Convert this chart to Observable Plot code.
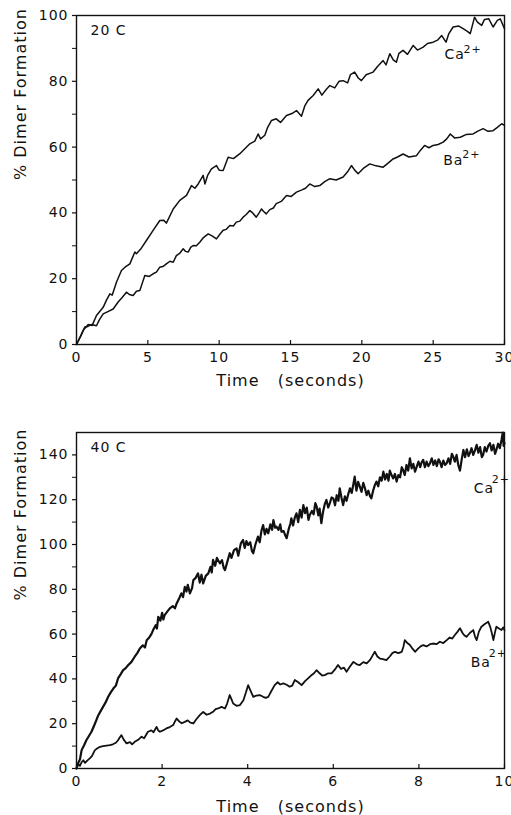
<!DOCTYPE html>
<html><head><meta charset="utf-8">
<script src="https://cdn.jsdelivr.net/npm/d3@7"></script>
<script src="https://cdn.jsdelivr.net/npm/@observablehq/plot@0.6"></script>
<style>body{margin:0;background:#fff;overflow:hidden} #chart{width:511px}</style>
</head><body><div id="chart"></div>
<script>
// ---- Top panel (20 C), time in seconds 0-30, % dimer formation ----
const caTop = [[0,0],[0.47,4.3],[0.82,6.1],[1.1,5.8],[1.4,8.8],[1.87,11.3],[2.1,13.5],[2.34,15.4],[2.5,15.0],[2.8,18.9],[3.15,22.5],[3.4,23.5],[3.74,24.5],[4.09,28.1],[4.2,27.6],[4.5,29],[4.9,31.6],[5.37,34.7],[5.84,37.7],[6.1,37.8],[6.3,36.9],[6.78,41.2],[7.24,43.8],[7.71,45.3],[8.06,48.3],[8.3,47.5],[8.53,48.8],[8.88,51.4],[9.0,48.8],[9.2,51.5],[9.46,53.4],[9.81,54.4],[10.0,53.0],[10.28,52.9],[10.63,56.9],[11.0,56.5],[11.45,58],[11.8,59.5],[12.15,61],[12.5,61.8],[12.73,64],[12.9,62.5],[13.2,63.6],[13.4,66],[13.67,68.1],[14.0,68.6],[14.3,67.5],[14.72,69.6],[15.1,70.2],[15.42,71.1],[15.77,69.4],[16.0,72.5],[16.23,74.2],[16.59,75.7],[16.94,77.7],[17.2,75.8],[17.5,77.5],[17.76,78.7],[18.1,78],[18.4,80],[18.69,80.2],[19.0,79.5],[19.2,82],[19.5,82.8],[19.75,81],[19.97,80.2],[20.3,82],[20.79,82.8],[21.1,84.5],[21.49,86.3],[21.7,85],[21.96,88.4],[22.2,86.5],[22.42,85.8],[22.6,88.5],[22.89,89.4],[23.2,88.2],[23.6,90.9],[23.9,89.5],[24.3,90.4],[24.6,91.5],[25.0,91.9],[25.3,92.5],[25.6,93.9],[25.9,91.9],[26.1,94.5],[26.4,96.5],[26.8,96.8],[27.1,96],[27.4,95.2],[27.6,94.5],[27.9,99.5],[28.1,98],[28.4,97],[28.6,98.8],[28.9,99],[29.2,96.5],[29.5,98.5],[29.7,99],[30,96]];
const baTop = [[0,0],[0.3,2.5],[0.58,5.3],[0.8,5.5],[1.05,6.1],[1.4,5.7],[1.6,7.5],[1.87,9.3],[2.2,10],[2.57,10.8],[2.92,12.9],[3.2,14.3],[3.5,15.9],[3.7,15.2],[3.97,14.9],[4.2,16.2],[4.44,16.4],[4.6,18.5],[4.79,21],[5.1,20.7],[5.37,21.5],[5.6,22],[5.84,23.5],[6.1,23.8],[6.3,24.5],[6.55,25.3],[6.78,25],[7.0,27],[7.25,27.8],[7.48,29.1],[7.65,28.3],[7.83,28.1],[8.0,29.5],[8.18,30.1],[8.4,30],[8.64,31.1],[8.9,32.5],[9.23,33.6],[9.5,33],[9.81,32.1],[10.05,33.5],[10.28,34.7],[10.5,35],[10.75,36.2],[11.0,36],[11.2,37.2],[11.45,37.5],[11.68,38.7],[11.9,39.5],[12.15,40.7],[12.35,40],[12.6,38.7],[12.8,40],[12.97,41.2],[13.1,40.5],[13.3,39.7],[13.55,41],[13.8,41.5],[14.0,42.8],[14.35,43.5],[14.72,45.3],[15.05,45],[15.42,46.3],[15.8,47],[16.05,47.5],[16.35,48.8],[16.7,48],[17.05,48.3],[17.4,49.5],[17.76,50.4],[18.2,50],[18.69,50.9],[19.0,52.5],[19.27,54.4],[19.5,53],[19.74,51.9],[20.1,53.5],[20.56,54.9],[21.0,54.3],[21.49,53.9],[21.8,55],[22.19,56.4],[22.5,57],[22.89,57.9],[23.3,57],[23.83,57.4],[24.1,59],[24.4,60.5],[24.7,59.8],[25.0,60.5],[25.35,60.8],[25.7,61.5],[25.95,62.5],[26.2,64],[26.5,62.8],[26.9,63],[27.3,63.8],[27.8,64],[28.1,64.8],[28.5,65.6],[28.85,64.8],[29.2,65],[29.5,66],[29.8,67.1],[30,66.6]];
const xTicksTop = [0, 5, 10, 15, 20, 25, 30];
const yTicksTop = [0, 20, 40, 60, 80, 100];
const yMinorTop = [10, 30, 50, 70, 90];
const labelsTop = [{t: 25.8, v: 88, ion: "Ca"}, {t: 25.7, v: 56, ion: "Ba"}];

// ---- Bottom panel (40 C), time in seconds 0-10 ----
const caBot = [[0,0],[0.04,2.5],[0.08,4],[0.12,8.2],[0.18,10.5],[0.23,12.6],[0.29,14.5],[0.35,16.4],[0.43,20],[0.51,23.8],[0.56,25.5],[0.62,27.5],[0.68,29.5],[0.74,32],[0.8,34],[0.86,35.7],[0.92,37],[0.97,40.2],[1.03,42],[1.09,43.9],[1.15,44.8],[1.21,46.2],[1.28,47.5],[1.36,49.9],[1.42,51.5],[1.48,53.6],[1.55,55],[1.6,54],[1.64,57.3],[1.7,58.5],[1.75,60],[1.79,61.8],[1.85,64],[1.88,62.5],[1.91,67.7],[1.96,66],[2.0,69.5],[2.03,66.5],[2.06,68.5],[2.12,70],[2.18,71.5],[2.25,72.5],[2.3,71.5],[2.34,73.7],[2.4,76],[2.45,78.2],[2.49,76.5],[2.53,81.1],[2.57,79],[2.6,82],[2.65,78.2],[2.7,80.5],[2.73,84.1],[2.78,85],[2.84,87.1],[2.88,83],[2.92,86.5],[2.96,82.6],[3.02,86],[3.08,87.1],[3.13,90],[3.16,87.5],[3.19,93.1],[3.24,90.5],[3.28,94],[3.35,91.6],[3.4,93],[3.44,89.5],[3.47,88.6],[3.52,92],[3.58,96.1],[3.62,94],[3.68,97.5],[3.74,98.3],[3.78,95],[3.84,100.5],[3.89,102],[3.93,98.5],[3.97,101.5],[4.01,99.8],[4.06,101],[4.1,97],[4.13,96.1],[4.18,100],[4.24,103.5],[4.28,101],[4.32,106],[4.36,108.7],[4.4,104.5],[4.44,107],[4.48,105],[4.53,109],[4.57,106.5],[4.6,110.9],[4.64,107.5],[4.67,108],[4.72,106.5],[4.76,109],[4.79,105.7],[4.84,106],[4.88,104],[4.91,102.8],[4.96,107],[5.0,109.5],[5.02,111.7],[5.06,108.5],[5.1,112],[5.14,113.9],[5.18,110],[5.22,115.5],[5.26,112],[5.3,117.6],[5.34,114],[5.38,116.5],[5.42,111],[5.45,113.2],[5.5,115],[5.54,113.5],[5.58,118.5],[5.61,117],[5.65,113],[5.68,116],[5.72,109.5],[5.76,114.5],[5.8,118],[5.84,119.9],[5.88,116.5],[5.92,118.5],[5.96,121],[6.0,120.6],[6.04,117.5],[6.08,122],[6.12,119.5],[6.15,125.1],[6.19,121],[6.23,117.6],[6.27,121.5],[6.31,119.5],[6.35,122.5],[6.39,125.1],[6.43,123],[6.47,127],[6.5,130.3],[6.54,124],[6.58,128],[6.62,125.8],[6.66,123.5],[6.7,127.5],[6.74,125.1],[6.78,122],[6.82,124],[6.86,121.5],[6.89,120.6],[6.93,124],[6.97,126.5],[7.01,128.1],[7.05,126],[7.09,130],[7.13,128.5],[7.17,132.5],[7.21,129],[7.25,131.5],[7.29,128.5],[7.32,133],[7.36,131],[7.4,129.5],[7.44,131.5],[7.48,128.1],[7.52,131],[7.56,130],[7.6,134.5],[7.63,133.3],[7.67,131],[7.71,135.5],[7.75,133],[7.79,138.5],[7.83,134],[7.87,136],[7.91,132.5],[7.95,134.8],[7.99,137],[8.03,134.5],[8.06,136.5],[8.1,137.8],[8.14,134.5],[8.18,137],[8.22,135],[8.26,136.3],[8.3,138.5],[8.34,135.5],[8.38,137.5],[8.42,135],[8.46,138],[8.49,137],[8.53,134.5],[8.57,137.5],[8.61,135.5],[8.65,136.3],[8.69,138.5],[8.73,136],[8.77,140.5],[8.8,139.3],[8.84,137],[8.88,140],[8.92,135.5],[8.96,133],[9.0,138],[9.04,142.2],[9.08,139],[9.12,142.5],[9.16,139.5],[9.19,140.7],[9.23,143],[9.27,140],[9.31,142],[9.35,144.5],[9.39,141],[9.43,143.5],[9.47,139],[9.5,140],[9.54,143.5],[9.58,141.5],[9.62,144],[9.66,145.2],[9.7,142],[9.74,144.5],[9.78,140.5],[9.81,142.2],[9.85,145],[9.89,143],[9.93,146.7],[9.96,150],[9.98,144],[10.0,145.2]];
const baBot = [[0,0],[0.04,2],[0.08,1.2],[0.12,2.8],[0.16,3.7],[0.2,2.5],[0.25,3.5],[0.31,4.5],[0.36,5.5],[0.43,8.2],[0.49,9],[0.55,9.7],[0.62,10],[0.7,10.2],[0.78,10.4],[0.85,10.8],[0.92,11.5],[0.97,12.6],[1.01,13.8],[1.05,14.9],[1.1,13],[1.17,11.2],[1.25,11.8],[1.3,10.8],[1.36,11.9],[1.44,12.8],[1.52,14.2],[1.58,13.5],[1.67,16.4],[1.75,17],[1.8,16.2],[1.87,18.6],[1.91,17],[1.95,16.4],[2.02,17],[2.1,17.9],[2.18,18.5],[2.26,19.4],[2.3,21],[2.34,22.3],[2.4,21],[2.46,20.2],[2.53,20.8],[2.6,21.5],[2.66,20.5],[2.73,20.1],[2.8,22],[2.88,23.8],[2.96,25.3],[3.04,24],[3.12,24.5],[3.2,25.5],[3.25,26.5],[3.31,26.8],[3.39,27.5],[3.47,26.8],[3.52,29],[3.58,32.8],[3.62,31],[3.66,29],[3.74,28],[3.82,28.3],[3.9,30.5],[3.96,34],[4.01,37.2],[4.06,35],[4.13,32],[4.2,32.5],[4.28,32.8],[4.36,32],[4.42,31.5],[4.48,32],[4.55,34.5],[4.63,37.2],[4.7,38.5],[4.76,37.5],[4.83,38],[4.9,37.5],[4.98,36.5],[5.04,37],[5.1,39.5],[5.18,38.5],[5.26,37.2],[5.34,39],[5.41,40.2],[5.48,41.5],[5.55,42.5],[5.61,43.9],[5.68,42.5],[5.74,41.5],[5.8,41.7],[5.88,42.5],[5.96,42.5],[6.03,44],[6.11,46.2],[6.18,44.5],[6.25,45],[6.31,43.2],[6.39,45.5],[6.47,47.6],[6.55,46.5],[6.62,46.2],[6.7,47.5],[6.78,46.9],[6.86,48.5],[6.92,50.5],[6.97,52.1],[7.03,50],[7.09,49.1],[7.16,48.8],[7.24,48.4],[7.32,50],[7.38,51.5],[7.44,52.1],[7.52,51.5],[7.6,52.1],[7.64,54.5],[7.67,57.3],[7.73,56],[7.79,55.1],[7.85,53.5],[7.91,52.1],[7.98,53.5],[8.04,54.5],[8.1,55.1],[8.18,54.5],[8.26,55.5],[8.33,55.8],[8.41,55.5],[8.49,56.6],[8.57,56],[8.65,57.3],[8.72,58.5],[8.78,58],[8.84,59.6],[8.9,61],[8.96,62.6],[9.02,60.5],[9.06,59.5],[9.11,58.8],[9.19,60.5],[9.27,61.8],[9.31,59],[9.35,57.3],[9.4,61],[9.46,63.3],[9.54,64.5],[9.62,65.5],[9.67,63],[9.71,60],[9.74,57.3],[9.78,61],[9.81,63.3],[9.87,62.5],[9.93,61.8],[9.97,63],[10.0,61.8]];
const xTicksBot = [0, 2, 4, 6, 8, 10];
const yTicksBot = [0, 20, 40, 60, 80, 100, 120, 140];
const yMinorBot = [10, 30, 50, 70, 90, 110, 130];
const labelsBot = [{t: 9.28, v: 124.8, ion: "Ca"}, {t: 9.21, v: 47.5, ion: "Ba"}];

const yTitle = "% Dimer Formation";
const xTitle = "Time   (seconds)";
const charge = "2+";

function panel(o) {
  const innerH = o.height - o.marginTop - o.marginBottom;
  return Plot.plot({
    width: 511, height: o.height,
    marginLeft: 76, marginRight: 7, marginTop: o.marginTop, marginBottom: o.marginBottom,
    style: {fontFamily: "'DejaVu Sans', sans-serif", fontSize: "14px", color: "#111", background: "#fff", overflow: "visible", letterSpacing: "1px"},
    x: {domain: o.xDomain},
    y: {domain: o.yDomain},
    marks: [
      Plot.frame({stroke: "#111", strokeWidth: 1.4}),
      Plot.axisY({ticks: o.yTicks, tickSize: 4, tickPadding: 4, label: null, strokeWidth: 1.2}),
      Plot.axisY({ticks: o.yMinor, tickSize: 4, tickFormat: () => "", label: null}),
      Plot.axisX({ticks: o.xTicks, tickSize: 0, tickPadding: 8, label: null}),
      Plot.ruleX(o.xTicks, {insetTop: innerH - 4, stroke: "#111", strokeWidth: 1.2}),
      Plot.line(o.ca, {x: d => d[0], y: d => d[1], stroke: "#111", strokeWidth: o.swCa, strokeLinejoin: "round"}),
      Plot.line(o.ba, {x: d => d[0], y: d => d[1], stroke: "#111", strokeWidth: o.swBa, strokeLinejoin: "round"}),
      Plot.text(o.labels, {x: "t", y: "v", text: "ion", textAnchor: "start", fontSize: 14, fill: "#111"}),
      Plot.text(o.labels, {x: "t", y: "v", text: () => charge, textAnchor: "start", fontSize: 11, dx: o.supDx, dy: o.supDy, fill: "#111"}),
      Plot.text([o.temp], {frameAnchor: "top-left", dx: 14, dy: 15, textAnchor: "start", lineAnchor: "middle", fontSize: 14, fill: "#111"}),
      Plot.text([yTitle], {frameAnchor: "left", dx: -56, rotate: -90, fontSize: 16, fill: "#111"}),
      Plot.text([xTitle], {frameAnchor: "bottom", dy: o.xTitleDy, lineAnchor: "middle", fontSize: 16, fill: "#111"})
    ]
  });
}

const chart = document.getElementById("chart");
chart.append(panel({ca: caTop, ba: baTop, xDomain: [0, 30], yDomain: [0, 100], xTicks: xTicksTop, yTicks: yTicksTop, yMinor: yMinorTop,
  labels: labelsTop, temp: "20 C", height: 407, marginTop: 15, marginBottom: 63, swCa: 1.5, swBa: 1.5, supDx: 19, supDy: -6, xTitleDy: 36}));
chart.append(panel({ca: caBot, ba: baBot, xDomain: [0, 10], yDomain: [0, 150], xTicks: xTicksBot, yTicks: yTicksBot, yMinor: yMinorBot,
  labels: labelsBot, temp: "40 C", height: 408, marginTop: 25, marginBottom: 47, swCa: 2.2, swBa: 1.8, supDx: 18, supDy: -9, xTitleDy: 38}));
</script>
</body></html>
